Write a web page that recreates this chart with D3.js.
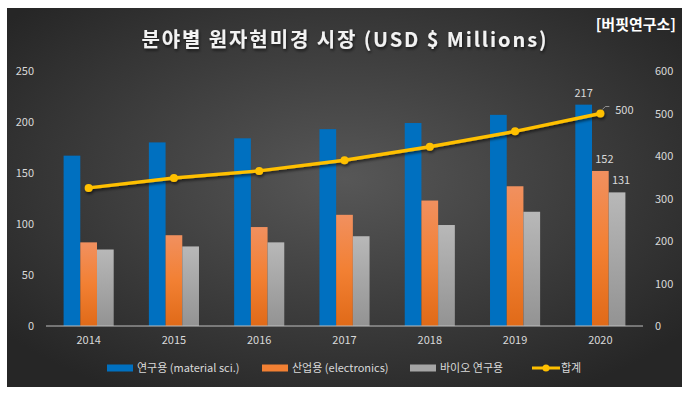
<!DOCTYPE html>
<html>
<head>
<meta charset="utf-8">
<script src="https://cdn.jsdelivr.net/npm/d3@7"></script>
<style>
	body { margin: 0; background: #ffffff; }
	#chart { width: 689px; height: 395px; }
	text { font-family: "Noto Sans CJK KR", "Noto Sans", sans-serif; }
</style>
</head>
<body>
<div id="chart"></div>
<script>
const years = ["2014", "2015", "2016", "2017", "2018", "2019", "2020"];
const research = [167, 180, 184, 193, 199, 207, 217];   // 연구용 (material sci.)
const industry = [82, 89, 97, 109, 123, 137, 152];      // 산업용 (electronics)
const bio = [75, 78, 82, 88, 99, 112, 131];             // 바이오 연구용
const total = [325, 348, 365, 390, 422, 458, 500];      // 합계
const leftTicks = [0, 50, 100, 150, 200, 250];
const rightTicks = [0, 100, 200, 300, 400, 500, 600];
const seriesNames = ["연구용 (material sci.)", "산업용 (electronics)", "바이오 연구용", "합계"];

const W = 689, H = 395;
const plot = { left: 46, right: 643, top: 71, bottom: 326 };

let svg = d3.select("#chart").append("svg")
	.attr("width", W)
	.attr("height", H);

let defs = svg.append("defs");

let bg = defs.append("radialGradient")
	.attr("id", "bg")
	.attr("cx", "50%").attr("cy", "45%").attr("r", "65%");
bg.append("stop").attr("offset", "0%").attr("stop-color", "#575757");
bg.append("stop").attr("offset", "100%").attr("stop-color", "#262626");

let gOrange = defs.append("linearGradient")
	.attr("id", "g_orange").attr("x1", 0).attr("y1", 0).attr("x2", 0).attr("y2", 1);
gOrange.append("stop").attr("offset", "0%").attr("stop-color", "#f1905f");
gOrange.append("stop").attr("offset", "50%").attr("stop-color", "#f28033");
gOrange.append("stop").attr("offset", "100%").attr("stop-color", "#e06a18");

let gGray = defs.append("linearGradient")
	.attr("id", "g_gray").attr("x1", 0).attr("y1", 0).attr("x2", 0).attr("y2", 1);
gGray.append("stop").attr("offset", "0%").attr("stop-color", "#b8b8b8");
gGray.append("stop").attr("offset", "100%").attr("stop-color", "#939393");

let shadow = defs.append("filter").attr("id", "shadow")
	.attr("x", "-10%").attr("y", "-30%").attr("width", "130%").attr("height", "160%");
shadow.append("feDropShadow")
	.attr("dx", 1).attr("dy", 2).attr("stdDeviation", 1.5)
	.attr("flood-color", "#000").attr("flood-opacity", 0.6);

// background
svg.append("rect")
	.attr("x", 7).attr("y", 8)
	.attr("width", 675).attr("height", 379)
	.attr("fill", "url(#bg)");

// title
svg.append("text")
	.attr("x", 344).attr("y", 47)
	.attr("text-anchor", "middle")
	.attr("font-size", 20)
	.attr("font-weight", "bold")
	.attr("fill", "#f2f2f2")
	.attr("textLength", 405)
	.attr("filter", "url(#shadow)")
	.text("분야별 원자현미경 시장 (USD $ Millions)");

svg.append("text")
	.attr("x", 676).attr("y", 30)
	.attr("text-anchor", "end")
	.attr("font-size", 15)
	.attr("font-weight", "bold")
	.attr("fill", "#ffffff")
	.text("[버핏연구소]");

// scales
let x = d3.scaleBand()
	.domain(years)
	.range([plot.left, plot.right]);

let y = d3.scaleLinear()
	.domain([0, 250])
	.range([plot.bottom, plot.top]);

let y2 = d3.scaleLinear()
	.domain([0, 600])
	.range([plot.bottom, plot.top]);

const barW = 16.7;
const series = [
	{ values: research, fill: "#0070c0" },
	{ values: industry, fill: "url(#g_orange)" },
	{ values: bio, fill: "url(#g_gray)" }
];

// axes
let axisLeft = svg.append("g")
	.attr("transform", "translate(" + 38 + ",0)")
	.call(d3.axisLeft(y).tickValues(leftTicks).tickSize(0).tickPadding(4));

let axisRight = svg.append("g")
	.attr("transform", "translate(" + 651 + ",0)")
	.call(d3.axisRight(y2).tickValues(rightTicks).tickSize(0).tickPadding(4));

let axisBottom = svg.append("g")
	.attr("transform", "translate(0," + plot.bottom + ")")
	.call(d3.axisBottom(x).tickSize(0).tickPadding(10));

[axisLeft, axisRight, axisBottom].forEach(a => {
	a.select(".domain").remove();
	a.selectAll("text")
		.attr("fill", "#d9d9d9")
		.attr("font-size", 11)
		.style("font-family", "'Noto Sans CJK KR', sans-serif");
});

// bars
let bars = svg.append("g").attr("id", "bars");
series.forEach((s, si) => {
	bars.append("g")
		.selectAll("rect")
		.data(s.values)
		.enter()
		.append("rect")
		.attr("x", (d, i) => x(years[i]) + x.bandwidth() / 2 - barW * 1.5 + si * barW)
		.attr("y", d => y(d))
		.attr("width", barW)
		.attr("height", d => y(0) - y(d))
		.attr("fill", s.fill);
});

// baseline
svg.append("line")
	.attr("x1", plot.left).attr("x2", plot.right)
	.attr("y1", plot.bottom).attr("y2", plot.bottom)
	.attr("stroke", "#bfbfbf")
	.attr("stroke-width", 1);

// total line
let cx = (d, i) => x(years[i]) + x.bandwidth() / 2;
let line = d3.line()
	.x(cx)
	.y(d => y2(d));

let lineG = svg.append("g").attr("filter", "url(#shadow)");
lineG.append("path")
	.datum(total)
	.attr("d", line)
	.attr("fill", "none")
	.attr("stroke", "#ffc000")
	.attr("stroke-width", 3.5);

lineG.selectAll("circle")
	.data(total)
	.enter()
	.append("circle")
	.attr("cx", cx)
	.attr("cy", d => y2(d))
	.attr("r", 4)
	.attr("fill", "#ffc000");

// data labels (last year only)
const last = years.length - 1;
const labelStyle = sel => sel
	.attr("font-size", 11)
	.attr("fill", "#d9d9d9")
	.attr("text-anchor", "middle");

series.forEach((s, si) => {
	svg.append("text")
		.call(labelStyle)
		.attr("x", x(years[last]) + x.bandwidth() / 2 - barW + si * barW + (si > 0 ? 4 : 0))
		.attr("y", y(s.values[last]) - 8)
		.text(s.values[last]);
});

svg.append("path")
	.attr("d", "M" + (cx(0, last) + 2) + "," + (y2(total[last]) - 4) + " l3,-3 h4")
	.attr("fill", "none")
	.attr("stroke", "#a6a6a6")
	.attr("stroke-width", 0.8);

svg.append("text")
	.call(labelStyle)
	.attr("x", cx(0, last) + 24)
	.attr("y", y2(total[last]) - 0)
	.text(total[last]);

// legend
let legend = svg.append("g").attr("id", "legend");
const legendX = [107, 262, 410, 532];
const legendY = 368;
const legendFills = ["#0070c0", "#f28033", "#a5a5a5"];

legend.selectAll("rect")
	.data(legendFills)
	.enter()
	.append("rect")
	.attr("x", (d, i) => legendX[i])
	.attr("y", legendY - 3.5)
	.attr("width", 26)
	.attr("height", 7)
	.attr("fill", d => d);

legend.append("line")
	.attr("x1", legendX[3]).attr("x2", legendX[3] + 28)
	.attr("y1", legendY).attr("y2", legendY)
	.attr("stroke", "#ffc000")
	.attr("stroke-width", 3);

legend.append("circle")
	.attr("cx", legendX[3] + 14).attr("cy", legendY)
	.attr("r", 3.5)
	.attr("fill", "#ffc000");

legend.selectAll("text")
	.data(seriesNames)
	.enter()
	.append("text")
	.attr("x", (d, i) => legendX[i] + (i < 3 ? 30 : 29))
	.attr("y", legendY + 4)
	.attr("font-size", 11)
	.attr("fill", "#d9d9d9")
	.text(d => d);
</script>
</body>
</html>
